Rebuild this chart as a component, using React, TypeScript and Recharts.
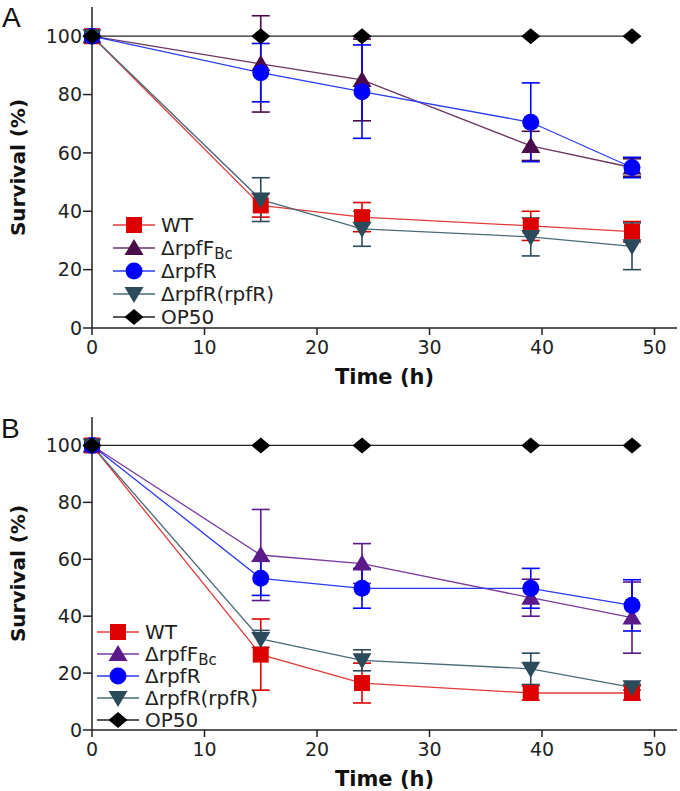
import React from 'react';
import { LineChart, Line, XAxis, YAxis, ErrorBar, Legend } from 'recharts';

// sampling times (h)
const times = [0, 15, 24, 39, 48];
const xTicks = [0, 10, 20, 30, 40, 50];
const yTicks = [0, 20, 40, 60, 80, 100];

// panel A survival (%) and error
const wtA = [100, 42, 38, 35, 33];
const wtAErr = [0, 4, 5, 5, 3.5];
const rpfFA = [100, 90.5, 85, 62.4, 55];
const rpfFAErr = [0, 16.5, 14, 5, 3];
const rpfRA = [100, 87.5, 81, 70.5, 55];
const rpfRAErr = [0, 10, 16, 13.5, 3.5];
const compA = [100, 44, 34, 31.2, 28];
const compAErr = [0, 7.5, 6, 6.5, 8];

// panel B
const wtB = [100, 26.5, 16.5, 13, 13];
const wtBErr = [0, 12.5, 7, 2.5, 2.5];
const rpfFB = [100, 61.5, 58.5, 46.5, 39.5];
const rpfFBErr = [0, 16, 7, 6.5, 12.5];
const rpfRB = [100, 53.3, 49.8, 49.8, 43.8];
const rpfRBErr = [0, 6, 7, 7, 9];
const compB = [100, 32, 24.5, 21.5, 15];
const compBErr = [0, 3, 3.7, 5.5, 1];

const op50 = [100, 100, 100, 100, 100];

const FONT = '"DejaVu Sans", sans-serif';

type Shape = 'square' | 'triangle' | 'circle' | 'down' | 'diamond';

interface SeriesDef {
  key: string;
  name: string;
  sub?: string;
  shape: Shape;
  fill: string;
  line: string;
  errKey?: string;
}

const seriesA: SeriesDef[] = [
  { key: 'wt', name: 'WT', shape: 'square', fill: '#dd0000', line: '#e33a3a', errKey: 'wtErr' },
  { key: 'rpfF', name: '\u0394rpfF', sub: 'Bc', shape: 'triangle', fill: '#4a0c48', line: '#6a3563', errKey: 'rpfFErr' },
  { key: 'rpfR', name: '\u0394rpfR', shape: 'circle', fill: '#0000ff', line: '#2a3cf0', errKey: 'rpfRErr' },
  { key: 'comp', name: '\u0394rpfR(rpfR)', shape: 'down', fill: '#2b4a5a', line: '#4a6a78', errKey: 'compErr' },
  { key: 'op50', name: 'OP50', shape: 'diamond', fill: '#000000', line: '#222222' },
];

const seriesB: SeriesDef[] = seriesA.map((s) =>
  s.key === 'rpfF' ? { ...s, fill: '#5a1a8a', line: '#7a3aa0' } : s
);

function buildRows(wt: number[], wtErr: number[], f: number[], fErr: number[], r: number[], rErr: number[], c: number[], cErr: number[]) {
  return times.map((t, i) => ({
    time: t,
    wt: wt[i], wtErr: wtErr[i],
    rpfF: f[i], rpfFErr: fErr[i],
    rpfR: r[i], rpfRErr: rErr[i],
    comp: c[i], compErr: cErr[i],
    op50: op50[i],
  }));
}

const dataA = buildRows(wtA, wtAErr, rpfFA, rpfFAErr, rpfRA, rpfRAErr, compA, compAErr);
const dataB = buildRows(wtB, wtBErr, rpfFB, rpfFBErr, rpfRB, rpfRBErr, compB, compBErr);

function Marker({ cx, cy, shape, fill }: { cx: number; cy: number; shape: Shape; fill: string }) {
  if (cx == null || cy == null) return null;
  switch (shape) {
    case 'square':
      return <rect x={cx - 8} y={cy - 8} width={16} height={16} fill={fill} />;
    case 'circle':
      return <circle cx={cx} cy={cy} r={8.5} fill={fill} />;
    case 'triangle':
      return <path d={`M${cx},${cy - 9} L${cx + 9.5},${cy + 7} L${cx - 9.5},${cy + 7} Z`} fill={fill} />;
    case 'down':
      return <path d={`M${cx},${cy + 9} L${cx + 9.5},${cy - 7} L${cx - 9.5},${cy - 7} Z`} fill={fill} />;
    default:
      return <path d={`M${cx},${cy - 8} L${cx + 9.5},${cy} L${cx},${cy + 8} L${cx - 9.5},${cy} Z`} fill={fill} />;
  }
}

function LegendBox({ series, step }: { series: SeriesDef[]; step: number }) {
  return (
    <svg width={230} height={step * 5 + 6} style={{ overflow: 'visible' }}>
      {series.map((s, i) => {
        const y = 12 + i * step;
        return (
          <g key={s.key}>
            <line x1={0} x2={42} y1={y} y2={y} stroke={s.line} strokeWidth={1.5} />
            <Marker cx={21} cy={y} shape={s.shape} fill={s.fill} />
            <text x={48} y={y} dominantBaseline="central" fontFamily={FONT} fontSize={20} fill="#222">
              {s.name}
              {s.sub && (
                <tspan fontSize={15} dy={6}>
                  {s.sub}
                </tspan>
              )}
            </text>
          </g>
        );
      })}
    </svg>
  );
}

function Panel({ data, series, height, top, bottom, legendPos, legendStep }: {
  data: any[];
  series: SeriesDef[];
  height: number;
  top: number;
  bottom: number;
  legendPos: { left: number; top: number };
  legendStep: number;
}) {
  const plotBottom = height - bottom - 60;
  const plotMid = (top + plotBottom) / 2;
  return (
    <LineChart width={680} height={height} data={data} margin={{ top, right: 3, bottom, left: 32 }}>
      <XAxis
        dataKey="time"
        type="number"
        domain={[0, 52]}
        ticks={xTicks}
        height={60}
        tickSize={7}
        tickMargin={6}
        stroke="#222"
        strokeWidth={1.5}
        tick={{ fill: '#222', fontSize: 19, fontFamily: FONT }}
        label={() => (
          <text x={(92 + 677) / 2} y={plotBottom + 49} textAnchor="middle" dominantBaseline="central"
            fontFamily={FONT} fontWeight="bold" fontSize={21} fill="#111">
            Time (h)
          </text>
        )}
      />
      <YAxis
        type="number"
        domain={[0, 110]}
        ticks={yTicks}
        width={60}
        tickSize={9}
        tickMargin={1}
        stroke="#222"
        strokeWidth={1.5}
        tick={{ fill: '#222', fontSize: 19, fontFamily: FONT }}
        label={() => (
          <text x={18} y={plotMid} transform={`rotate(-90 18 ${plotMid})`} textAnchor="middle"
            dominantBaseline="central" fontFamily={FONT} fontWeight="bold" fontSize={20} fill="#111">
            Survival (%)
          </text>
        )}
      />
      <Legend
        layout="vertical"
        align="center"
        verticalAlign="middle"
        wrapperStyle={{ left: legendPos.left, top: legendPos.top, width: 230 }}
        content={() => <LegendBox series={series} step={legendStep} />}
      />
      {series.map((s) => (
        <Line
          key={s.key}
          dataKey={s.key}
          name={s.name}
          stroke={s.line}
          strokeWidth={1.3}
          isAnimationActive={false}
          dot={(p: any) => <Marker key={`${s.key}-${p.index}`} cx={p.cx} cy={p.cy} shape={s.shape} fill={s.fill} />}
          activeDot={false}
        >
          {s.errKey && <ErrorBar dataKey={s.errKey} width={9} stroke={s.fill} strokeWidth={1.6} direction="y" />}
        </Line>
      ))}
    </LineChart>
  );
}

export default function App() {
  return (
    <div style={{ position: 'absolute', left: 0, top: 0, width: 680, height: 791, background: '#fff' }}>
      <div style={{ position: 'absolute', left: 0, top: 0 }}>
        <Panel data={dataA} series={seriesA} height={395} top={7} bottom={7}
          legendPos={{ left: 113, top: 213 }} legendStep={23} />
      </div>
      <div style={{ position: 'absolute', left: 0, top: 395 }}>
        <Panel data={dataB} series={seriesB} height={396} top={22} bottom={1}
          legendPos={{ left: 97, top: 225 }} legendStep={22} />
      </div>
      <svg width={40} height={791} style={{ position: 'absolute', left: 0, top: 0, pointerEvents: 'none' }}>
        <text x={2} y={27} fontFamily='"Liberation Sans", Arial' fontSize={28} fill="#111">A</text>
        <text x={1} y={438} fontFamily='"Liberation Sans", Arial' fontSize={28} fill="#111">B</text>
      </svg>
    </div>
  );
}
